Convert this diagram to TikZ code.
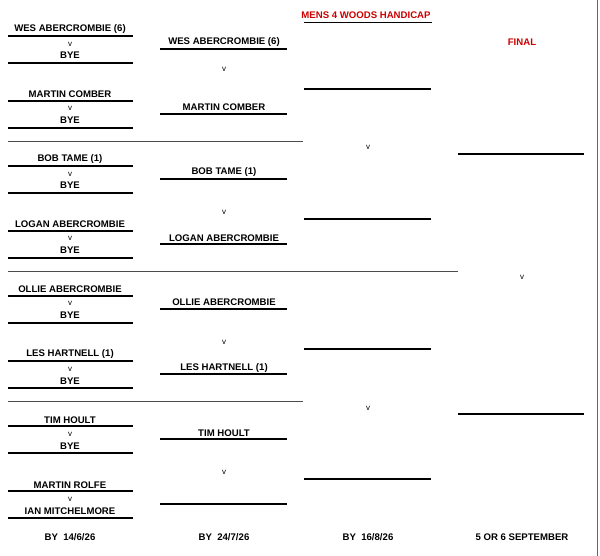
\documentclass[tikz,border=0pt]{standalone}
\usepackage{fontspec}
\setmainfont{Liberation Sans}
\usetikzlibrary{positioning}

\begin{document}
\begin{tikzpicture}[
                    x=1pt, y=-1pt,
                    player/.style={font=\fontsize{9.6}{10}\selectfont\bfseries, inner sep=0pt},
                    vs/.style={font=\fontsize{8}{9}\selectfont, inner sep=0pt},
                    title/.style={font=\fontsize{9.6}{10}\selectfont\bfseries, text=red!80!black, inner sep=0pt},
                    slot/.style={line width=1.4pt},
                    split/.style={line width=0.5pt, black!70}
                ]
                \useasboundingbox (0,0) rectangle (600,556);
                \draw[black!60, line width=0.6pt] (597,0) -- (597,556);

                % Title and final
                \node[title] (head) at (366,15) {MENS 4 WOODS HANDICAP};
                \draw[line width=0.9pt] (304,22) -- (432,22);
                \node[title] (final) at (522,42) {FINAL};

                % First round
                \node[player] (a1) at (70,29) {WES ABERCROMBIE (6)};
                \node[vs, below=8pt of a1] (a1v) {v};
                \node[player] (a2) at (70,55) {BYE};
                \node[player] (b1) at (70,94) {MARTIN COMBER};
                \node[vs, below=8pt of b1] (b1v) {v};
                \node[player] (b2) at (70,120) {BYE};
                \node[player] (c1) at (70,159) {BOB TAME (1)};
                \node[vs, below=8pt of c1] (c1v) {v};
                \node[player] (c2) at (70,185) {BYE};
                \node[player] (d1) at (70,224) {LOGAN ABERCROMBIE};
                \node[vs, below=8pt of d1] (d1v) {v};
                \node[player] (d2) at (70,250) {BYE};
                \node[player] (e1) at (70,289) {OLLIE ABERCROMBIE};
                \node[vs, below=8pt of e1] (e1v) {v};
                \node[player] (e2) at (70,315) {BYE};
                \node[player] (f1) at (70,354) {LES HARTNELL (1)};
                \node[vs, below=8pt of f1] (f1v) {v};
                \node[player] (f2) at (70,381) {BYE};
                \node[player] (g1) at (70,420) {TIM HOULT};
                \node[vs, below=8pt of g1] (g1v) {v};
                \node[player] (g2) at (70,446) {BYE};
                \node[player] (h1) at (70,485) {MARTIN ROLFE};
                \node[vs, below=8pt of h1] (h1v) {v};
                \node[player] (h2) at (70,511) {IAN MITCHELMORE};

                \foreach \k in {0,...,7} {
                    \draw[slot] (8,36+65*\k) -- (133,36+65*\k);
                    \draw[slot] (8,63+65*\k) -- (133,63+65*\k);
                }

                % Second round
                \node[player] (ab1) at (224,42) {WES ABERCROMBIE (6)};
                \node[vs] (abv) at (224,69) {v};
                \node[player] (ab2) at (224,107) {MARTIN COMBER};
                \node[player] (cd1) at (224,172) {BOB TAME (1)};
                \node[vs] (cdv) at (224,212) {v};
                \node[player] (cd2) at (224,238) {LOGAN ABERCROMBIE};
                \node[player] (ef1) at (224,302) {OLLIE ABERCROMBIE};
                \node[vs] (efv) at (224,342) {v};
                \node[player] (ef2) at (224,368) {LES HARTNELL (1)};
                \node[player] (gh1) at (224,433) {TIM HOULT};
                \node[vs] (ghv) at (224,472) {v};

                \foreach \k in {0,...,3} {
                    \draw[slot] (160,49+130*\k) -- (287,49+130*\k);
                    \draw[slot] (160,114+130*\k) -- (287,114+130*\k);
                }

                % Semi finals and final
                \foreach \y in {89,219,349,479}
                    \draw[slot] (304,\y) -- (431,\y);
                \node[vs] (semi1v) at (368,147) {v};
                \node[vs] (semi2v) at (368,408) {v};
                \draw[slot] (458,154) -- (584,154);
                \draw[slot] (458,414) -- (584,414);
                \node[vs] (finalv) at (522,277) {v};

                % Dividers
                \draw[split] (8,141) -- (303,141);
                \draw[split] (8,271) -- (458,271);
                \draw[split] (8,401) -- (303,401);

                % Dates
                \node[player] (date1) at (70,537) {BY\ \ 14/6/26};
                \node[player] (date2) at (224,537) {BY\ \ 24/7/26};
                \node[player] (date3) at (368,537) {BY\ \ 16/8/26};
                \node[player] (date4) at (522,537) {5 OR 6 SEPTEMBER};
\end{tikzpicture}
\end{document}
